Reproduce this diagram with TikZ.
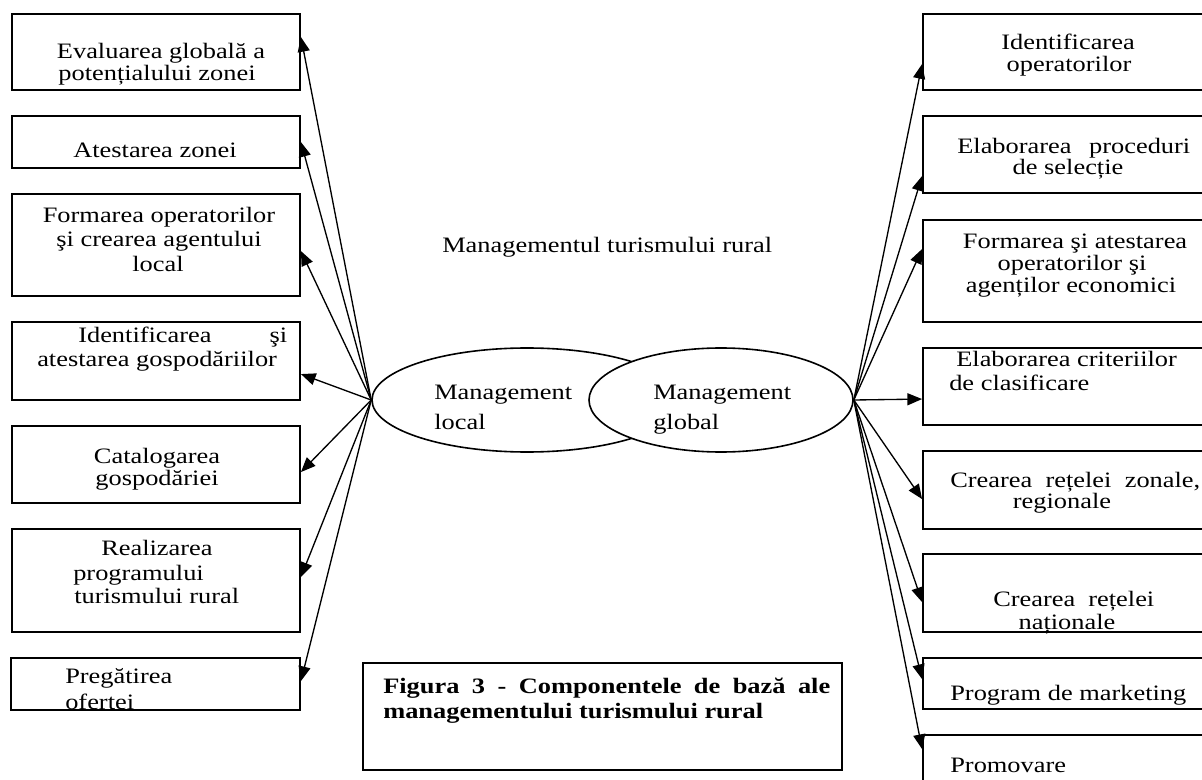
\documentclass[tikz,border=0pt]{standalone}
\usepackage{fontspec}
\setmainfont{Liberation Serif}[FakeStretch=1.2]
\usetikzlibrary{shapes.geometric,fit,arrows.meta}
\begin{document}
\begin{tikzpicture}[x=0.75pt,y=-0.75pt,
  box/.style={draw,line width=1.4pt,fill=white,inner sep=0pt},
  txt/.style={inner sep=0pt,font=\fontsize{16.5pt}{17pt}\selectfont},
  ctr/.style={txt,anchor=base},
  lft/.style={txt,anchor=base west},
  arr/.style={line width=1pt,-{Triangle[length=11pt,width=9pt]}},
  ell/.style={ellipse,draw,line width=1.2pt,fill=white,inner sep=0pt,minimum height=78pt}]
\fill[white] (0,0) rectangle (1202,780);
\useasboundingbox (0,0) rectangle (1202,780);

% left boxes
\node[box,fit={(12,14)(300,90)}] (b1) {};
\node[box,fit={(12,116)(300,168)}] (b2) {};
\node[box,fit={(12,194)(300,296)}] (b3) {};
\node[box,fit={(12,322)(300,400)}] (b4) {};
\node[box,fit={(12,426)(300,503)}] (b5) {};
\node[box,fit={(12,529)(300,632)}] (b6) {};
\node[box,fit={(11,658)(300,710)}] (b7) {};
% right boxes
\node[box,fit={(923,14)(1213,90)}] (r1) {};
\node[box,fit={(923,116)(1213,193)}] (r2) {};
\node[box,fit={(923,220)(1213,322)}] (r3) {};
\node[box,fit={(923,348)(1213,425)}] (r4) {};
\node[box,fit={(923,451)(1213,529)}] (r5) {};
\node[box,fit={(923,554)(1213,632)}] (r6) {};
\node[box,fit={(923,658)(1213,709)}] (r7) {};
\node[box,fit={(923,735)(1213,800)}] (r8) {};
% caption box
\node[box,fit={(363,663)(842,770)}] (cap) {};

% ellipses
\node[ell,minimum width=232.5pt] (loc) at (527,400) {};
\node[ell,minimum width=198pt] (glob) at (721,400) {};

% arrow end points on the box edges
\path (b1.north east) ++(0,24) coordinate (t1);
\path (b2.north east) ++(0,27) coordinate (t2);
\path (b3.north east) ++(0,58) coordinate (t3);
\path (b4.north east) ++(0,53) coordinate (t4);
\path (b5.north east) ++(0,47) coordinate (t5);
\path (b6.north east) ++(0,49) coordinate (t6);
\path (b7.north east) ++(0,24) coordinate (t7);
\path (r1.north west) ++(0,51) coordinate (s1);
\path (r2.north west) ++(0,61) coordinate (s2);
\path (r3.north west) ++(0,30) coordinate (s3);
\path (r4.north west) ++(0,52) coordinate (s4);
\path (r5.north west) ++(0,49) coordinate (s5);
\path (r6.north west) ++(0,49) coordinate (s6);
\path (r7.north west) ++(0,22) coordinate (s7);
\path (r8.north west) ++(0,15) coordinate (s8);

\foreach \t in {t1,t2,t3,t4,t5,t6,t7} \draw[arr] (loc.west) -- (\t);
\foreach \s in {s1,s2,s3,s4,s5,s6,s7,s8} \draw[arr] (glob.east) -- (\s);

% texts left
\node[ctr] (b1a) at (161,59) {Evaluarea globală a};
\node[ctr] (b1b) at (157,81) {potențialului zonei};
\node[ctr] (b2a) at (155,158) {Atestarea zonei};
\node[ctr] (b3a) at (159,223) {Formarea operatorilor};
\node[ctr] (b3b) at (159,247) {şi crearea agentului};
\node[ctr] (b3c) at (158,272) {local};
\node[lft] (b4a) at (78,343) {\makebox[156.75pt][s]{Identificarea\hfill şi}};
\node[lft] (b4b) at (37,367) {atestarea gospodăriilor};
\node[ctr] (b5a) at (157,463) {Catalogarea};
\node[ctr] (b5b) at (157,485) {gospodăriei};
\node[lft] (b6a) at (101,555) {Realizarea};
\node[lft] (b6b) at (73,580) {programului};
\node[lft] (b6c) at (74,603) {turismului rural};
\node[lft] (b7a) at (65,683) {Pregătirea};
\begin{scope}
  \clip (b7.south west) rectangle (b7.north east);
  \node[lft] (b7b) at (65,709) {ofertei};
\end{scope}

% centre texts
\node[lft] (title) at (442,253) {Managementul turismului rural};
\node[lft] (loca) at (434,399) {Management};
\node[lft] (locb) at (434,429) {local};
\node[lft] (gloa) at (653,399) {Management};
\node[lft] (glob2) at (653,429) {global};

% caption
\node[lft,font=\fontsize{16.5pt}{17pt}\selectfont\bfseries] (capa) at (383,693) {\makebox[335.25pt][s]{Figura 3 - Componentele de bază ale}};
\node[lft,font=\fontsize{16.5pt}{17pt}\selectfont\bfseries] (capb) at (383,718) {managementului turismului rural};

% texts right
\node[ctr] (r1a) at (1068,50) {Identificarea};
\node[ctr] (r1b) at (1069,72) {operatorilor};
\node[lft] (r2a) at (957,154) {\makebox[174.75pt][s]{Elaborarea proceduri}};
\node[ctr] (r2b) at (1068,175) {de selecție};
\node[ctr] (r3a) at (1075,249) {Formarea şi atestarea};
\node[ctr] (r3b) at (1072,271) {operatorilor şi};
\node[ctr] (r3c) at (1071,293) {agenților economici};
\node[lft] (r4a) at (956,367) {Elaborarea criteriilor};
\node[lft] (r4b) at (949,390) {de clasificare};
\node[lft] (r5a) at (950,487) {\makebox[187.5pt][s]{Crearea rețelei zonale,}};
\node[ctr] (r5b) at (1062,508) {regionale};
\node[lft] (r6a) at (993,606) {\makebox[120.75pt][s]{Crearea rețelei}};
\node[ctr] (r6b) at (1067,629) {naționale};
\node[lft] (r7a) at (950,700) {Program de marketing};
\node[lft] (r8a) at (950,772) {Promovare};
\end{tikzpicture}
\end{document}
